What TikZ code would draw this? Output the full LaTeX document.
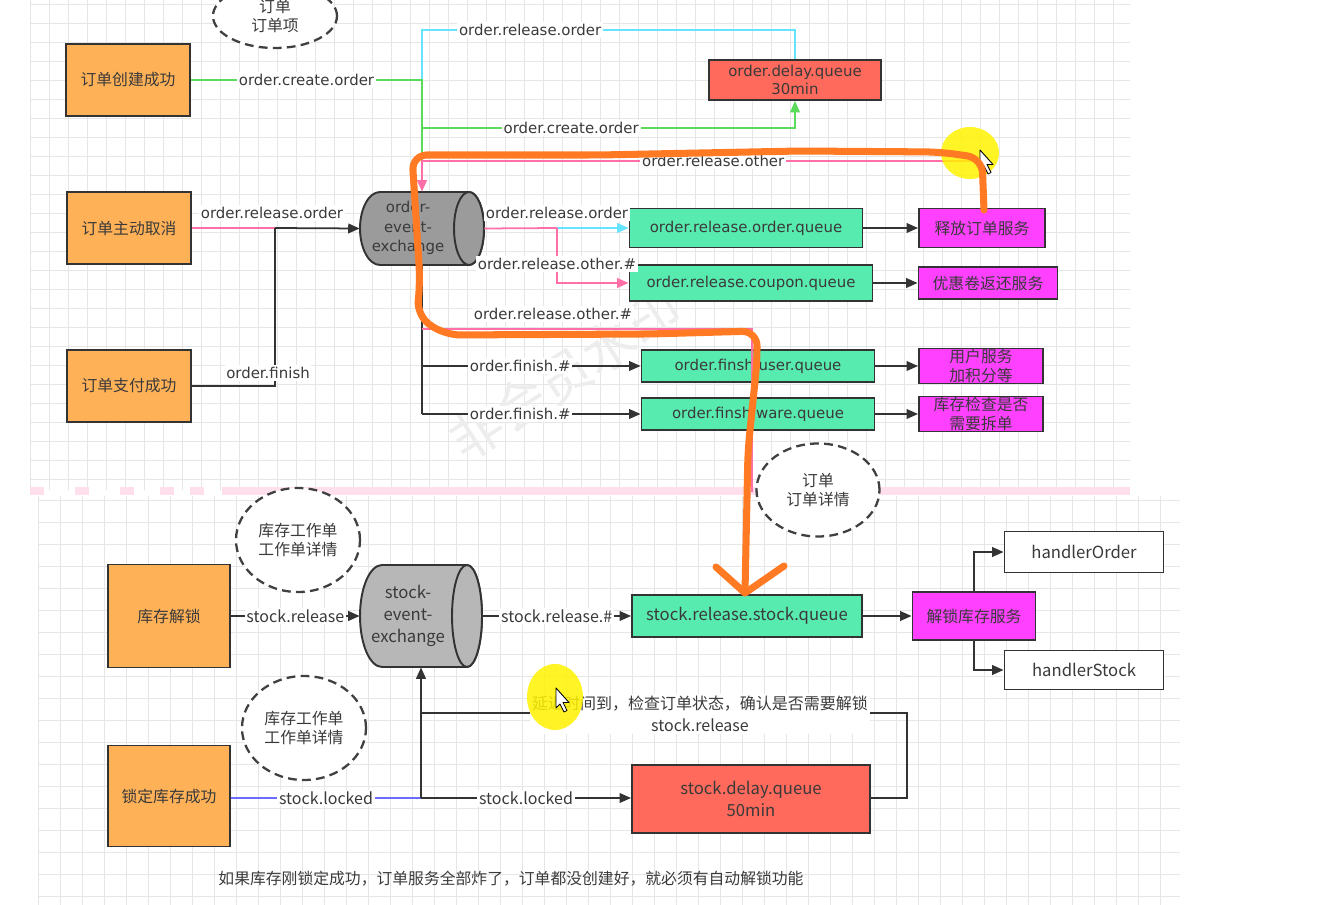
\documentclass[tikz,border=0pt]{standalone}
\usepackage{fontspec}
\setmainfont{DejaVu Sans}
\newfontfamily\cjk{Noto Sans CJK SC}
\usetikzlibrary{arrows.meta,shapes.geometric,calc}

\definecolor{txt}{HTML}{3A3A3A}
\definecolor{orgfill}{HTML}{FFB157}
\definecolor{qgreen}{HTML}{58EBB0}
\definecolor{qred}{HTML}{FF6A5C}
\definecolor{qmag}{HTML}{FF40FF}
\definecolor{xgray}{HTML}{9B9B9B}
\definecolor{xgraylt}{HTML}{B7B7B7}
\definecolor{lcyan}{HTML}{66E3FF}
\definecolor{lgreen}{HTML}{5BDB5B}
\definecolor{lpink}{HTML}{FF6FA8}
\definecolor{lblue}{HTML}{6B6BFF}
\definecolor{pen}{HTML}{FF7A22}
\definecolor{gridc}{HTML}{E6E6E6}

\newlength{\pxl}
\setlength{\pxl}{0.02cm}

\begin{document}
\begin{tikzpicture}[x=0.02cm,y=-0.02cm,
  box/.style={draw=black!80,line width=1.1pt,text=txt,inner sep=0pt,align=center,font=\cjk\fontsize{9}{11}\selectfont},
  src/.style={box,fill=orgfill},
  queue/.style={box,fill=qgreen,font=\fontsize{8.5}{10}\selectfont},
  squeue/.style={box,fill=qgreen,font=\cjk\fontsize{9.5}{12}\selectfont},
  delayq/.style={box,fill=qred,font=\fontsize{8.5}{10}\selectfont},
  sdelayq/.style={box,fill=qred,font=\cjk\fontsize{9.5}{12.5}\selectfont},
  svc/.style={box,fill=qmag},
  hdl/.style={box,fill=white,font=\cjk\fontsize{9.5}{12}\selectfont},
  port/.style={inner sep=0pt},
  drum/.style={draw=black!80,line width=1.1pt,line join=round},
  xlab/.style={text=txt,align=center,inner sep=0pt},
  memo/.style={ellipse,draw=black!75,line width=1.3pt,dash pattern=on 5pt off 3pt,fill=white,
    text=txt,align=center,inner sep=0pt,font=\cjk\fontsize{9}{11}\selectfont},
  wire/.style={line width=1pt,draw=black!80},
  tip/.style={-{Triangle[length=6.5pt,width=5.5pt]}},
  lab/.style={fill=white,inner sep=1pt,text=txt,font=\fontsize{8.5}{10}\selectfont},
  blab/.style={fill=white,inner sep=1pt,text=txt,font=\cjk\fontsize{9.1}{12.5}\selectfont},
  gridline/.style={gridc,line width=0.5pt},
  hilite/.style={yellow,opacity=0.85},
  ptr/.style={fill=white,draw=black,line width=0.5pt,line join=round}]
\useasboundingbox (0,0) rectangle (1342,905);
\clip (0,0) rectangle (1342,905);

% screenshot backgrounds
\foreach \gx in {30,49,...,1130} \draw[gridline] (\gx,0) -- (\gx,490);
\foreach \gy in {4,23,...,490} \draw[gridline] (30,\gy) -- (1130,\gy);
\foreach \gx in {38,60,...,1180} \draw[gridline] (\gx,496) -- (\gx,905);
\foreach \gy in {500,522,...,905} \draw[gridline] (38,\gy) -- (1180,\gy);
\draw[lpink!22,line width=4pt] (222,491) -- (1130,491);
\foreach \sx in {30,75,120,160,190} \draw[lpink!22,line width=4pt] (\sx,491) -- ++(14,0);
\node[rotate=33,text=gray!14,font=\cjk\fontsize{30}{30}\selectfont] (wm) at (565,375) {非会员水印};

% ---- order flow ----
\node[memo,minimum width=124\pxl,minimum height=64\pxl] (memo1) at (275,16) {订单\\订单项};
\node[src,minimum width=124\pxl,minimum height=72\pxl] (create) at (128,80) {订单创建成功};
\node[src,minimum width=124\pxl,minimum height=72\pxl] (cancel) at (129,228) {订单主动取消};
\node[src,minimum width=124\pxl,minimum height=72\pxl] (paid) at (129,386) {订单支付成功};
% exchange drum
\node[port,minimum width=124\pxl,minimum height=73\pxl] (oex) at (422,228.5) {};
\filldraw[drum,fill=xgray] (469,192) -- (380,192) arc[start angle=90,end angle=270,x radius=0.4cm,y radius=0.73cm]
  -- (469,265) arc[start angle=-90,end angle=90,x radius=0.3cm,y radius=0.73cm] -- cycle;
\filldraw[drum,fill=xgray] (469,228.5) ellipse [x radius=0.3cm,y radius=0.73cm];
\node[xlab,font=\fontsize{8.5}{11}\selectfont] (oexl) at (408,228) {order-\\event-\\exchange};
\node[delayq,minimum width=172\pxl,minimum height=40\pxl] (odelay) at (795,80) {order.delay.queue\\30min};
\node[queue,minimum width=233\pxl,minimum height=39\pxl] (qorder) at (746,228) {order.release.order.queue};
\node[queue,minimum width=243\pxl,minimum height=36\pxl] (qcoupon) at (751,283) {order.release.coupon.queue};
\node[queue,minimum width=233\pxl,minimum height=32\pxl] (quser) at (758,366) {order.finsh.user.queue};
\node[queue,minimum width=233\pxl,minimum height=32\pxl] (qware) at (758,414) {order.finsh.ware.queue};
\node[svc,minimum width=126\pxl,minimum height=39\pxl] (srelease) at (982,228) {释放订单服务};
\node[svc,minimum width=139\pxl,minimum height=32\pxl] (scoupon) at (988,283) {优惠卷返还服务};
\node[svc,minimum width=124\pxl,minimum height=35\pxl] (suser) at (981,366) {用户服务\\加积分等};
\node[svc,minimum width=124\pxl,minimum height=35\pxl] (sware) at (981,414) {库存检查是否\\需要拆单};

\coordinate (ct) at (422,30);
\coordinate (jc) at (422,80);
\coordinate (jd) at (422,128);
\coordinate (jo) at (422,161);
\coordinate (jr) at (275,228);
\coordinate (jp) at (557,228);
\coordinate (jq) at (422,329);
\coordinate (jf1) at (422,366);
\coordinate (jf2) at (422,414);

\draw[wire,lcyan] (odelay.north) -- (odelay.north |- ct) -- node[lab,pos=0.71] (l1) {order.release.order} (ct) -- (jc);
\draw[wire,lgreen] (create.east) -- node[lab] (l2) {order.create.order} (jc) -- (jo);
\draw[wire,lgreen,tip] (jd) -- node[lab,pos=0.4] (l3) {order.create.order} (jd -| odelay.south) -- (odelay.south);
\draw[wire,lpink,tip] (srelease.north) -- (srelease.north |- jo) -- node[lab,pos=0.48] (l4) {order.release.other} (jo) -- (jo |- oex.north);
\draw[wire,lpink] (cancel.east) -- (jr);
\draw[wire,tip] (jr) -- (oex.west);
\draw[wire] (paid.east) -- (paid.east -| jr) -- (jr);
\node[lab] (l5) at (272,213) {order.release.order};
\node[lab] (l6) at (268,373) {order.finish};
\draw[wire,lpink] (oex.east) -- (jp);
\draw[wire,lcyan,tip] (jp) -- (qorder.west);
\draw[wire,lpink,tip] (jp) |- (qcoupon.west);
\node[lab] (l7) at (557,213) {order.release.order};
\node[lab] (l8) at (557,264) {order.release.other.\#};
\draw[wire] (jq |- oex.south) -- (jf2);
\draw[wire,tip] (jf1) -- node[lab,pos=0.45] (l9) {order.finish.\#} (quser.west);
\draw[wire,tip] (jf2) -- node[lab,pos=0.45] (l10) {order.finish.\#} (qware.west);
\draw[wire,lpink] (jq) -- (752,329) -- (752,492);
\node[lab] (l11) at (553,314) {order.release.other.\#};
\draw[wire,tip] (qorder.east) -- (srelease.west);
\draw[wire,tip] (qcoupon.east) -- (scoupon.west);
\draw[wire,tip] (quser.east) -- (suser.west);
\draw[wire,tip] (qware.east) -- (sware.west);
\node[memo,minimum width=123\pxl,minimum height=93\pxl] (memo2) at (818,490) {订单\\订单详情};

% ---- stock flow ----
\node[memo,minimum width=124\pxl,minimum height=104\pxl] (memo3) at (298,540) {库存工作单\\工作单详情};
\node[memo,minimum width=124\pxl,minimum height=104\pxl] (memo4) at (304,728) {库存工作单\\工作单详情};
\node[src,minimum width=122\pxl,minimum height=103\pxl] (unlock) at (169,616) {库存解锁};
\node[src,minimum width=122\pxl,minimum height=101\pxl] (locked) at (169,796) {锁定库存成功};
% exchange drum
\node[port,minimum width=122\pxl,minimum height=102\pxl] (sex) at (421,616) {};
\filldraw[drum,fill=xgraylt] (467,565) -- (382,565) arc[start angle=90,end angle=270,x radius=0.44cm,y radius=1.02cm]
  -- (467,667) arc[start angle=-90,end angle=90,x radius=0.3cm,y radius=1.02cm] -- cycle;
\filldraw[drum,fill=xgraylt] (467,616) ellipse [x radius=0.3cm,y radius=1.02cm];
\node[xlab,font=\cjk\fontsize{9.5}{12.5}\selectfont] (sexl) at (408,616) {stock-\\event-\\exchange};
\node[squeue,minimum width=230\pxl,minimum height=42\pxl] (qstock) at (747,616) {stock.release.stock.queue};
\node[svc,minimum width=123\pxl,minimum height=48\pxl] (sunlock) at (974,616) {解锁库存服务};
\node[hdl,minimum width=159\pxl,minimum height=41\pxl] (horder) at (1084,552) {handlerOrder};
\node[hdl,minimum width=159\pxl,minimum height=39\pxl] (hstock) at (1084,670) {handlerStock};
\node[sdelayq,minimum width=238\pxl,minimum height=68\pxl] (sdelay) at (751,799) {stock.delay.queue\\50min};

\coordinate (jl) at (421,798);
\coordinate (jb) at (421,713);

\draw[wire,tip] (unlock.east) -- node[blab] (l12) {stock.release} (sex.west);
\draw[wire,tip] (sex.east) -- node[blab] (l13) {stock.release.\#} (qstock.west);
\draw[wire,tip] (qstock.east) -- (sunlock.west);
\draw[wire,tip] (sunlock.north) |- (horder.west);
\draw[wire,tip] (sunlock.south) |- (hstock.west);
\draw[wire,lblue] (locked.east |- jl) -- node[blab] (l14) {stock.locked} (jl);
\draw[wire,tip] (jl) -- (jl |- sex.south);
\draw[wire,tip] (jl) -- node[blab] (l15) {stock.locked} (sdelay.west |- jl);
\draw[wire] (sdelay.east |- jl) -- (907,798) -- (907,713) -- (jb);
\node[blab,align=center] (l16) at (700,714) {延迟时间到，检查订单状态，确认是否需要解锁\\stock.release};
\node[blab,fill=none,font=\cjk\fontsize{9}{11}\selectfont] (foot) at (511,879) {如果库存刚锁定成功，订单服务全部炸了，订单都没创建好，就必须有自动解锁功能};

% highlights and pen strokes
\fill[hilite] (555,697) ellipse [x radius=0.56cm,y radius=0.66cm];
\fill[hilite] (970,153) ellipse [x radius=0.58cm,y radius=0.52cm];
\draw[ptr] (556,688) -- ++(0,20) -- ++(4,-4) -- ++(4,8) -- ++(3,-1.5) -- ++(-4,-8) -- ++(6,0) -- cycle;
\draw[ptr] (980,150) -- ++(0,20) -- ++(4,-4) -- ++(4,8) -- ++(3,-1.5) -- ++(-4,-8) -- ++(6,0) -- cycle;
\draw[pen,line width=4pt,line cap=round,line join=round,rounded corners=0.3cm]
  (984,210) -- (982,158) -- (940,152) -- (800,151) -- (600,155) -- (412,155)
  -- (420,280) -- (417,316) -- (445,335) -- (650,334) -- (757,331) -- (757,362)
  -- (748,450) -- (745,592);
\draw[pen,line width=4pt,line cap=round,line join=round] (716,567) -- (745,593) -- (784,566);
\end{tikzpicture}
\end{document}
